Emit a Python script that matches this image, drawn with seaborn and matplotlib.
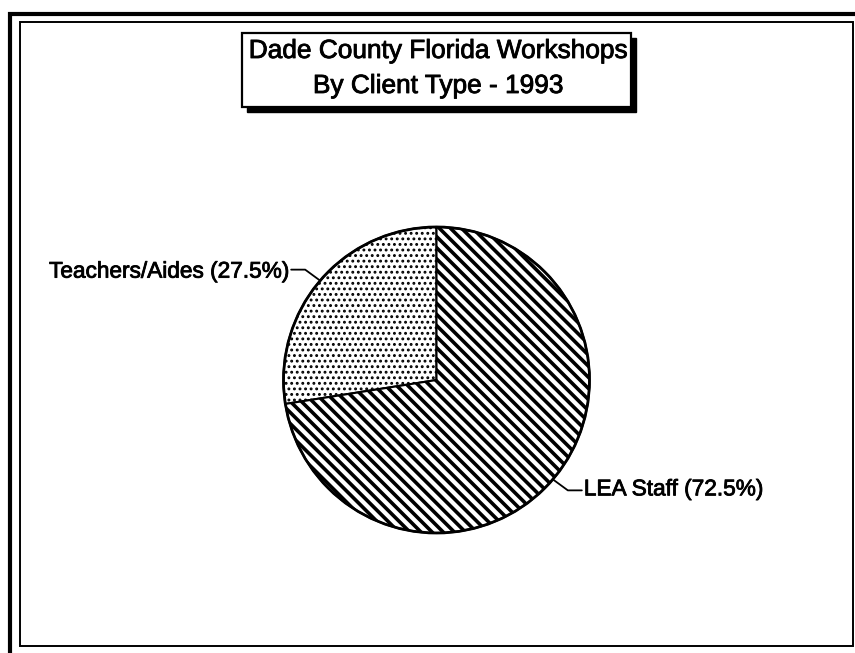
import numpy as np
import matplotlib
matplotlib.use("Agg")
import matplotlib.pyplot as plt
from matplotlib.patches import Rectangle, Circle
import matplotlib.patheffects as pe
import seaborn as sns

# ---- data ----
categories = ["Teachers/Aides", "LEA Staff"]
shares = [27.5, 72.5]
title_lines = ["Dade County Florida Workshops", "By Client Type - 1993"]

sns.set_theme(style="white")
plt.rcParams["font.family"] = ["Liberation Sans", "DejaVu Sans"]
plt.rcParams["hatch.linewidth"] = 2.4
plt.rcParams["hatch.color"] = "black"

W, H = 855, 653
fig = plt.figure(figsize=(W / 100, H / 100), dpi=100, facecolor="white")

def fx(px):
    return px / W

def fy(py):
    return 1 - py / H

bold = [pe.withStroke(linewidth=0.6, foreground="black")]

# frame (double border)
fig.patches.append(Rectangle((fx(10), fy(660)), fx(855) - fx(10) + 0.02, fy(14) - fy(660),
                             transform=fig.transFigure, fill=False, ec="black", lw=3.0))
fig.patches.append(Rectangle((fx(20), fy(646)), fx(853) - fx(20), fy(22) - fy(646),
                             transform=fig.transFigure, fill=False, ec="black", lw=1.4))

# pie axes
cx, cy, r = 436.5, 380, 153
lim = 1.02
half = r * lim
ax = fig.add_axes([fx(cx - half), fy(cy + half), 2 * half / W, 2 * half / H])
wedges, _ = ax.pie(shares, startangle=90, counterclock=True,
                   colors=["white", "white"],
                   wedgeprops=dict(edgecolor="black", linewidth=1.5))
wedges[0].set_hatch("...")
wedges[1].set_hatch("\\" * 3)
if hasattr(wedges[0], "set_hatch_linewidth"):
    wedges[0].set_hatch_linewidth(1.3)
    wedges[1].set_hatch_linewidth(2.6)
ax.add_patch(Circle((0, 0), 1.0, fill=False, ec="black", lw=2.0, zorder=5))
ax.set_xlim(-lim, lim)
ax.set_ylim(-lim, lim)
ax.set_aspect("equal")
ax.axis("off")

# labels with elbow leader lines
unit = 1.0 / r
total = sum(shares)
start = 90.0
for i, (lab, val) in enumerate(zip(categories, shares)):
    span = 360 * val / total
    mid = np.deg2rad(start + span / 2)
    start += span
    ex, ey = np.cos(mid), np.sin(mid)
    sx = np.sign(ex)
    elx = ex + sx * 15 * unit
    ely = ey + np.sign(ey) * 11 * unit
    endx = elx + sx * 14 * unit
    ax.plot([ex, elx, endx], [ey, ely, ely], color="black", lw=1.3, clip_on=False)
    ax.text(endx + sx * 2 * unit, ely - np.sign(ey) * 1.5 * unit,
            f"{lab} ({val}%)", ha="left" if sx > 0 else "right", va="center",
            fontsize=16.3, color="black", clip_on=False, path_effects=bold)

# title box with drop shadow
bx0, bx1, by0, by1 = 242, 631, 33, 107
fig.patches.append(Rectangle((fx(bx0 + 5), fy(by1 + 5)), fx(bx1) - fx(bx0), fy(by0) - fy(by1),
                             transform=fig.transFigure, fc="black", ec="black", lw=1))
fig.patches.append(Rectangle((fx(bx0), fy(by1)), fx(bx1) - fx(bx0), fy(by0) - fy(by1),
                             transform=fig.transFigure, fc="white", ec="black", lw=1.6))
fig.text(fx(438), fy(51), title_lines[0], ha="center", va="center", fontsize=18.9,
         color="black", path_effects=bold)
fig.text(fx(438), fy(86), title_lines[1], ha="center", va="center", fontsize=18.9,
         color="black", path_effects=bold)

fig.savefig("out.png", dpi=100, facecolor="white")
